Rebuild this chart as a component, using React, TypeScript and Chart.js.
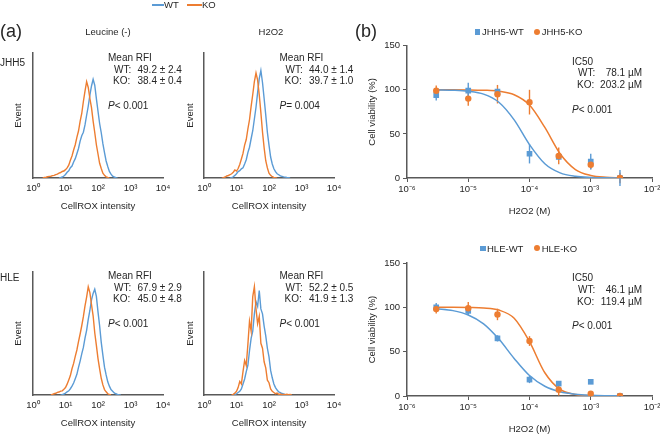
import React, { useEffect, useRef } from 'react';
import { Chart, registerables } from 'chart.js';

Chart.register(...registerables);

const FONT = '"Liberation Sans", Arial, Helvetica, sans-serif';
const BLUE = '#5B9BD5';
const ORANGE = '#ED7D31';
const AXIS = '#595959';
const TEXT = '#262626';
Chart.defaults.font.family = FONT;

const _ = null;

// ---------- (a) flow cytometry histograms ----------
// bin centres, log10(CellROX intensity)
const logBins = [0.30, 0.35, 0.40, 0.45, 0.50, 0.55, 0.60, 0.65, 0.70, 0.75, 0.80, 0.85, 0.90, 0.95, 1.00, 1.05, 1.10, 1.15, 1.20, 1.25, 1.30, 1.35, 1.40, 1.45, 1.50, 1.55, 1.60, 1.65, 1.70, 1.75, 1.80, 1.85, 1.90, 1.95, 2.00, 2.05, 2.10, 2.15, 2.20, 2.25, 2.30, 2.35, 2.40, 2.45, 2.50, 2.55, 2.60, 2.65, 2.70, 2.75, 2.80, 2.85, 2.90];
const histTicks = [0, 1, 2, 3, 4];
const histTickLabels = ['10⁰', '10¹', '10²', '10³', '10⁴'];

const jhh5LeuWT = [_, _, _, _, _, _, _, _, _, _, 0, 0.3, 0.8, 1.6, 2.8, 4.6, 5.8, 8.2, 9.6, 12.8, 15.5, 19.4, 23.6, 29.5, 33.8, 36.6, 42.5, 50.2, 57.4, 66.3, 73.6, 79, 74.2, 63.5, 53.4, 43.6, 36.2, 27.5, 20.3, 13.6, 9.2, 5.3, 3.1, 1.4, 0.8, 0.3, 0, _, _, _, _, _, _];
const jhh5LeuKO = [0, 0.5, 0.6, 1.0, 1.3, 1.4, 1.9, 2.1, 2.7, 3.1, 3.9, 4.4, 5.2, 5.6, 6.7, 8.1, 10.3, 14.2, 17.6, 22.4, 26.6, 32.5, 37.6, 45.3, 51.6, 61.2, 69.5, 77, 72.4, 63.6, 56.3, 45.5, 36.4, 26.6, 19.2, 11.8, 7.6, 3.9, 2.1, 0.9, 0.4, 0, _, _, _, _, _, _, _, _, _, _, _];
const jhh5H2WT = [_, _, _, _, _, _, _, _, _, _, 0, 0.3, 1.0, 2.1, 3.4, 5.2, 5.8, 7.3, 8.1, 11.2, 14.6, 20.3, 24.6, 31.4, 37.8, 47.2, 56.6, 68.3, 79.5, 86, 76.4, 63.6, 50.4, 36.6, 26.3, 16.8, 11.2, 7.4, 5.1, 3.4, 2.6, 1.7, 1.3, 0.9, 0.7, 0.4, 0.3, 0, _, _, _, _, _];
const jhh5H2KO = [_, _, _, _, _, 0, 0.3, 0.8, 1.6, 2.0, 2.6, 3.4, 4.6, 6.4, 5.5, 7.6, 10.8, 15.2, 19.7, 26.3, 30.8, 39.2, 46.6, 57.3, 66.8, 77.2, 84, 78.3, 66.6, 52.3, 36.8, 24.2, 13.8, 8.1, 3.9, 2.1, 1.0, 0.5, 0.2, 0, _, _, _, _, _, _, _, _, _, _, _, _, _];
const hleLeuWT = [_, _, _, _, _, _, _, _, _, _, _, 0, 0.3, 0.8, 1.5, 2.6, 3.4, 5.1, 7.2, 9.8, 13.3, 16.8, 22.4, 27.6, 33.4, 38.7, 46.3, 52.6, 61.4, 68.7, 77.3, 82.6, 86, 80.2, 67.6, 56.3, 42.8, 32.4, 22.6, 16.3, 10.7, 7.2, 4.4, 3.1, 1.7, 1.0, 0.5, 0.2, 0, _, _, _, _];
const hleLeuKO = [_, _, _, _, _, 0, 0.5, 1.0, 1.4, 2.1, 2.4, 3.1, 3.4, 4.6, 6.1, 8.8, 12.2, 15.8, 21.3, 25.7, 31.4, 36.6, 43.4, 49.6, 56.3, 63.7, 72.4, 79.6, 88, 83.2, 73.6, 64.4, 50.6, 40.3, 29.6, 21.2, 13.6, 8.2, 4.4, 2.6, 1.0, 0.4, 0, _, _, _, _, _, _, _, _, _, _];
const hleH2WT = [_, _, _, _, _, _, _, _, _, _, _, _, 0, 0.3, 1, 2, 3, 5, 9, 13, 19, 24, 36, 46, 52, 66, 76, 72, 85, 70, 66, 56, 48, 38, 31, 20, 14, 9, 6, 4, 2.5, 2, 1.2, 0.8, 0.5, 0.3, 0, _, _, _, _, _, _];
const hleH2KO = [_, _, _, _, _, _, _, _, _, _, _, 0, 0.5, 1.5, 3, 6, 11, 9, 19, 28, 24, 41, 60, 52, 80, 88, 70, 58, 64, 42, 38, 27, 22, 12, 10, 5, 3, 2, 1, 1.5, 0.5, 0.8, 0.3, 0.5, 0.2, 0.6, 0.2, 0.4, 0, _, _, _, _];

const rfiWT = ['49.2 ± 2.4', '44.0 ± 1.4', '67.9 ± 2.9', '52.2 ± 0.5'];
const rfiKO = ['38.4 ± 0.4', '39.7 ± 1.0', '45.0 ± 4.8', '41.9 ± 1.3'];
const rfiP = ['< 0.001', '= 0.004', '< 0.001', '< 0.001'];

// ---------- (b) cell viability ----------
const doseX = [3e-6, 1e-5, 3e-5, 1e-4, 3e-4, 1e-3, 3e-3];
const doseTicks = [1e-6, 1e-5, 1e-4, 1e-3, 1e-2];
const doseTickLabels = ['10⁻⁶', '10⁻⁵', '10⁻⁴', '10⁻³', '10⁻²'];
const viabilityTicks = [0, 50, 100, 150];

const jhh5WT = [94, 99, 98, 27.5, 24, 18.5, 0];
const jhh5WTErr = [6, 9, 3, 11, 3, 9, 9];
const jhh5KO = [99, 90, 95, 86, 25, 15, 0];
const jhh5KOErr = [6, 8, 10.5, 14, 9.5, 5, 6];
const hleWT = [100, 96, 65, 18.5, 14, 16, 0];
const hleWTErr = [5, 4.5, 3.5, 4, 2, 1, 1];
const hleKO = [98, 99, 92, 62, 7, 2.5, 0];
const hleKOErr = [5, 7, 6.5, 5.5, 6.5, 3, 1];

// fitted curves
const fitX = [3e-6, 5.62e-6, 1e-5, 1.78e-5, 3.16e-5, 5.62e-5, 1e-4, 1.78e-4, 3.16e-4, 5.62e-4, 1e-3, 1.78e-3, 3e-3];
const jhh5WTFit = [99.8, 99.5, 98.4, 95.1, 85.9, 65.9, 37.9, 16.2, 5.8, 1.9, 0.6, 0.2, 0.1];
const jhh5KOFit = [100, 100, 99.9, 99.5, 98.4, 94.4, 82.7, 57.3, 27.5, 9.6, 2.9, 0.8, 0.2];
const hleWTFit = [98.5, 96.3, 91.4, 81.4, 64.2, 42.4, 23.1, 11.0, 4.8, 2.0, 0.84, 0.35, 0.15];
const hleKOFit = [100, 100, 99.8, 99.3, 96.9, 87.6, 61.3, 26.2, 7.4, 1.75, 0.4, 0.1, 0];

const ic50WT = ['78.1 µM', '46.1 µM'];
const ic50KO = ['203.2 µM', '119.4 µM'];

// ---------- helpers ----------
const pin = (size: number) => (scale: any) => {
  if (scale.isHorizontal()) scale.height = size;
  else scale.width = size;
  scale.paddingLeft = 0;
  scale.paddingRight = 0;
  scale.paddingTop = 0;
  scale.paddingBottom = 0;
};

const tickFont = { family: FONT, size: 9.5 };
const titleFont = { family: FONT, size: 9.5 };

function histConfig(wt: (number | null)[], ko: (number | null)[], eventPad: number, titlePad: number) {
  const toXY = (ys: (number | null)[]) =>
    logBins.map((x, i) => ({ x, y: ys[i] })).filter((p) => p.y !== null);
  return {
    type: 'line',
    data: {
      datasets: [
        { label: 'KO', data: toXY(ko), borderColor: ORANGE, borderWidth: 1.4, pointRadius: 0, tension: 0, fill: false },
        { label: 'WT', data: toXY(wt), borderColor: BLUE, borderWidth: 1.4, pointRadius: 0, tension: 0, fill: false },
      ],
    },
    options: {
      responsive: false,
      animation: false,
      events: [],
      layout: { padding: { left: 0, top: 8, right: 12, bottom: 0 } },
      plugins: { legend: { display: false }, tooltip: { enabled: false } },
      scales: {
        x: {
          type: 'linear',
          min: 0,
          max: 4,
          afterBuildTicks: (s: any) => {
            s.ticks = histTicks.map((v) => ({ value: v }));
          },
          ticks: {
            callback: (_v: any, i: number) => histTickLabels[i],
            color: TEXT,
            font: tickFont,
            padding: 5,
            maxRotation: 0,
            autoSkip: false,
          },
          grid: { display: false, drawTicks: false },
          border: { display: true, color: AXIS, width: 1.5 },
          title: { display: true, text: 'CellROX intensity', color: TEXT, font: titleFont, padding: { top: 0, bottom: titlePad } },
          afterFit: pin(37),
        },
        y: {
          type: 'linear',
          min: 0,
          max: 100,
          ticks: { display: false },
          grid: { display: false, drawTicks: false },
          border: { display: true, color: AXIS, width: 1.5 },
          title: { display: true, text: 'Event', color: TEXT, font: titleFont, padding: { top: eventPad, bottom: 0 } },
          afterFit: pin(33),
        },
      },
    },
  };
}

const errorBarPlugin = {
  id: 'errorBars',
  beforeDatasetsDraw(chart: any) {
    const ctx = chart.ctx;
    const ys = chart.scales.y;
    chart.data.datasets.forEach((ds: any, di: number) => {
      if (!ds.errors) return;
      const meta = chart.getDatasetMeta(di);
      ctx.save();
      ctx.strokeStyle = ds.errColor;
      ctx.lineWidth = 1.4;
      meta.data.forEach((pt: any, i: number) => {
        const v = ds.data[i].y;
        const e = ds.errors[i];
        const y1 = ys.getPixelForValue(v - e);
        const y2 = ys.getPixelForValue(v + e);
        ctx.beginPath();
        ctx.moveTo(pt.x, y1);
        ctx.lineTo(pt.x, y2);
        ctx.stroke();
      });
      ctx.restore();
    });
  },
};

function viaConfig(
  wt: number[], wtErr: number[], ko: number[], koErr: number[],
  wtFit: number[], koFit: number[], padTop: number, xh: number, titlePad: number
) {
  const pts = (ys: number[]) => doseX.map((x, i) => ({ x, y: ys[i] }));
  const fit = (ys: number[]) => fitX.map((x, i) => ({ x, y: ys[i] }));
  return {
    type: 'line',
    data: {
      datasets: [
        { label: 'KO', data: pts(ko), showLine: false, pointStyle: 'circle', pointRadius: 3.2, backgroundColor: ORANGE, borderColor: ORANGE, borderWidth: 0, errors: koErr, errColor: ORANGE },
        { label: 'WT', data: pts(wt), showLine: false, pointStyle: 'rect', pointRadius: 4, backgroundColor: BLUE, borderColor: BLUE, borderWidth: 0, errors: wtErr, errColor: BLUE },
        { label: 'WT fit', data: fit(wtFit), borderColor: BLUE, borderWidth: 1.5, pointRadius: 0, cubicInterpolationMode: 'monotone', fill: false },
        { label: 'KO fit', data: fit(koFit), borderColor: ORANGE, borderWidth: 1.5, pointRadius: 0, cubicInterpolationMode: 'monotone', fill: false },
      ],
    },
    options: {
      responsive: false,
      animation: false,
      events: [],
      layout: { padding: { left: 0, top: padTop, right: 8, bottom: 0 } },
      plugins: { legend: { display: false }, tooltip: { enabled: false } },
      scales: {
        x: {
          type: 'logarithmic',
          min: 1e-6,
          max: 1e-2,
          afterBuildTicks: (s: any) => {
            s.ticks = doseTicks.map((v) => ({ value: v }));
          },
          ticks: {
            callback: (_v: any, i: number) => doseTickLabels[i],
            color: TEXT,
            font: tickFont,
            padding: 2,
            maxRotation: 0,
            autoSkip: false,
          },
          grid: { display: true, drawOnChartArea: false, drawTicks: true, tickLength: 4, color: AXIS, lineWidth: 1 },
          border: { display: true, color: AXIS, width: 1.5 },
          title: { display: true, text: 'H2O2 (M)', color: TEXT, font: titleFont, padding: { top: 0, bottom: titlePad } },
          afterFit: pin(xh),
        },
        y: {
          type: 'linear',
          min: 0,
          max: 150,
          afterBuildTicks: (s: any) => {
            s.ticks = viabilityTicks.map((v) => ({ value: v }));
          },
          ticks: { color: TEXT, font: tickFont, padding: 3 },
          grid: { display: true, drawOnChartArea: false, drawTicks: true, tickLength: 4, color: AXIS, lineWidth: 1 },
          border: { display: true, color: AXIS, width: 1.5 },
          title: { display: true, text: 'Cell viability (%)', color: TEXT, font: titleFont, padding: { top: 12, bottom: 0 } },
          afterFit: pin(52),
        },
      },
    },
    plugins: [errorBarPlugin],
  };
}

function ChartCanvas({ left, top, width, height, config }: any) {
  const ref = useRef<HTMLCanvasElement>(null);
  useEffect(() => {
    if (!ref.current) return;
    const chart = new Chart(ref.current, config);
    return () => chart.destroy();
  }, []);
  return (
    <canvas
      ref={ref}
      width={width}
      height={height}
      style={{ position: 'absolute', left, top, width, height }}
    />
  );
}

function Txt({ x, y, size = 10, align = 'left', children, style }: any) {
  const lh = size * 1.2;
  const s: any = {
    position: 'absolute',
    top: y - lh / 2,
    fontSize: size,
    lineHeight: lh + 'px',
    whiteSpace: 'pre',
    fontFamily: FONT,
    color: TEXT,
  };
  if (align === 'left') s.left = x;
  else if (align === 'center') {
    s.left = x;
    s.transform = 'translateX(-50%)';
  } else s.right = 660 - x;
  return <div style={{ ...s, ...(style || {}) }}>{children}</div>;
}

const histPanels = [
  { left: 0, top: 45, height: 170, wt: jhh5LeuWT, ko: jhh5LeuKO, eventPad: 12.3, titlePad: 3.3, ax: 108, ay: 58 },
  { left: 171, top: 45, height: 170, wt: jhh5H2WT, ko: jhh5H2KO, eventPad: 13.3, titlePad: 3.3, ax: 279.5, ay: 58 },
  { left: 0, top: 264, height: 168, wt: hleLeuWT, ko: hleLeuKO, eventPad: 12.3, titlePad: 3.3, ax: 108, ay: 276 },
  { left: 171, top: 264, height: 168, wt: hleH2WT, ko: hleH2KO, eventPad: 13.3, titlePad: 3.3, ax: 279.5, ay: 276 },
];

export default function App() {
  return (
    <div
      style={{
        position: 'absolute',
        left: 0,
        top: 0,
        width: 660,
        height: 435,
        overflow: 'hidden',
        background: '#ffffff',
        fontFamily: FONT,
      }}
    >
      {histPanels.map((p, i) => (
        <ChartCanvas
          key={'h' + i}
          left={p.left}
          top={p.top}
          width={175}
          height={p.height}
          config={histConfig(p.wt, p.ko, p.eventPad, p.titlePad)}
        />
      ))}
      <ChartCanvas
        left={355}
        top={36}
        width={305}
        height={184}
        config={viaConfig(jhh5WT, jhh5WTErr, jhh5KO, jhh5KOErr, jhh5WTFit, jhh5KOFit, 9.7, 42, 3.3)}
      />
      <ChartCanvas
        left={355}
        top={254}
        width={305}
        height={181}
        config={viaConfig(hleWT, hleWTErr, hleKO, hleKOErr, hleWTFit, hleKOFit, 9, 39, 0)}
      />

      {/* top legend */}
      <div style={{ position: 'absolute', left: 151.5, top: 4.2, width: 12.5, height: 1.6, background: BLUE }} />
      <Txt x={164} y={5} size={9.5}>WT</Txt>
      <div style={{ position: 'absolute', left: 187, top: 4.2, width: 15, height: 1.6, background: ORANGE }} />
      <Txt x={202} y={5} size={9.5}>KO</Txt>

      {/* panel labels */}
      <Txt x={0} y={32} size={18}>(a)</Txt>
      <Txt x={355} y={32} size={18}>(b)</Txt>
      <Txt x={108} y={32} size={9.5} align="center">Leucine (-)</Txt>
      <Txt x={271} y={32} size={9.5} align="center">H2O2</Txt>
      <Txt x={0} y={63} size={10}>JHH5</Txt>
      <Txt x={0} y={278} size={10}>HLE</Txt>

      {/* histogram annotations */}
      {histPanels.map((p, i) => (
        <React.Fragment key={'a' + i}>
          <Txt x={p.ax} y={p.ay}>Mean RFI</Txt>
          <Txt x={p.ax + 6} y={p.ay + 11.5}>WT:</Txt>
          <Txt x={p.ax + 29.5} y={p.ay + 11.5}>{rfiWT[i]}</Txt>
          <Txt x={p.ax + 5} y={p.ay + 23}>KO:</Txt>
          <Txt x={p.ax + 29.5} y={p.ay + 23}>{rfiKO[i]}</Txt>
          <Txt x={p.ax} y={p.ay + 48}>
            <i>P</i>
            {rfiP[i]}
          </Txt>
        </React.Fragment>
      ))}

      {/* viability legends */}
      <div style={{ position: 'absolute', left: 474.8, top: 29.2, width: 5.5, height: 5.5, background: BLUE }} />
      <Txt x={482} y={32} size={9.5}>JHH5-WT</Txt>
      <div style={{ position: 'absolute', left: 533.8, top: 28.8, width: 6.4, height: 6.4, borderRadius: '50%', background: ORANGE }} />
      <Txt x={541.7} y={32} size={9.5}>JHH5-KO</Txt>

      <div style={{ position: 'absolute', left: 480.3, top: 245.5, width: 5.5, height: 5.5, background: BLUE }} />
      <Txt x={487} y={248.3} size={9.5}>HLE-WT</Txt>
      <div style={{ position: 'absolute', left: 533.8, top: 245.1, width: 6.4, height: 6.4, borderRadius: '50%', background: ORANGE }} />
      <Txt x={541.7} y={248.3} size={9.5}>HLE-KO</Txt>

      {/* IC50 annotations */}
      {[61.5, 278].map((y0, i) => (
        <React.Fragment key={'ic' + i}>
          <Txt x={572} y={y0}>IC50</Txt>
          <Txt x={578} y={y0 + 11.7}>WT:</Txt>
          <Txt x={642} y={y0 + 11.7} align="right">{ic50WT[i]}</Txt>
          <Txt x={577} y={y0 + 23.7}>KO:</Txt>
          <Txt x={642} y={y0 + 23.7} align="right">{ic50KO[i]}</Txt>
          <Txt x={572} y={y0 + 48}>
            <i>P</i>
            {'< 0.001'}
          </Txt>
        </React.Fragment>
      ))}
    </div>
  );
}
